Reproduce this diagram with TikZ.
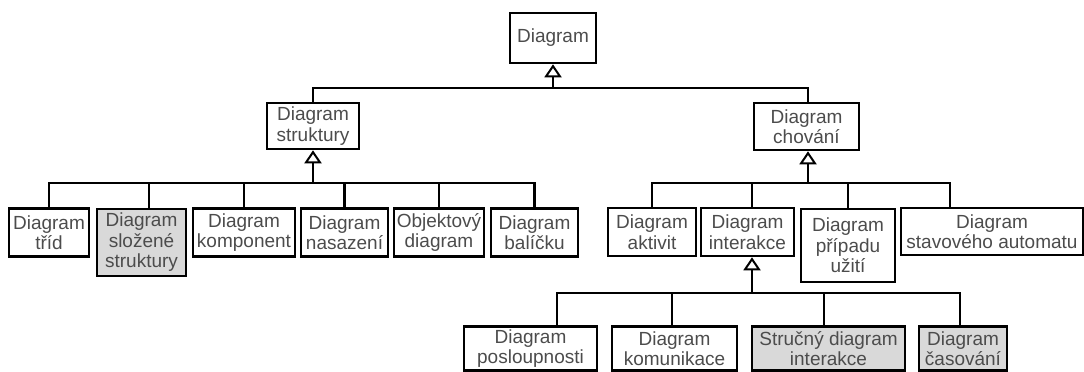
\documentclass[tikz,border=0pt]{standalone}
\usepackage{fontspec}
\setmainfont{Liberation Sans}
\usetikzlibrary{arrows.meta}
\definecolor{boxgray}{gray}{0.85}
\definecolor{txtgray}{gray}{0.3}
\begin{document}
\begin{tikzpicture}[x=1pt,y=-1pt]
        \tikzstyle{diag}=[draw=black,line width=2.6pt,text=txtgray,align=center,inner sep=0pt,font=\fontsize{19}{20.5}\selectfont]
        \tikzstyle{shaded}=[diag,fill=boxgray]
        \tikzstyle{edge}=[draw,line width=2.4pt]
        \tikzstyle{gen}=[edge,-{Triangle[open,length=13pt,width=17pt,line width=2pt]}]
        \useasboundingbox (0,0) rectangle (1084,372);
       \begin{scope}
         % top levels
         \node [diag,minimum width=86pt,minimum height=50pt] (diagram) at (553,38) {Diagram};
         \node [diag,minimum width=92pt,minimum height=46pt] (struktury) at (313,126) {Diagram\\struktury};
         \node [diag,minimum width=105pt,minimum height=47pt] (chovani) at (806.5,126.5) {Diagram\\chování};

         % structure diagrams
         \node [diag,minimum width=80pt,minimum height=48pt] (trid) at (49,232.5) {Diagram\\tříd};
         \node [shaded,minimum width=89pt,minimum height=67pt] (slozene) at (141.5,242.5) {Diagram\\složené\\struktury};
         \node [diag,minimum width=102pt,minimum height=48pt] (komponent) at (244,232.5) {Diagram\\komponent};
         \node [diag,minimum width=87pt,minimum height=48pt] (nasazeni) at (344.5,232.5) {Diagram\\nasazení};
         \node [diag,minimum width=90pt,minimum height=48pt] (objektovy) at (439,232.5) {Objektový\\diagram};
         \node [diag,minimum width=87pt,minimum height=48pt] (balicku) at (534.5,232.5) {Diagram\\balíčku};

         % behaviour diagrams
         \node [diag,minimum width=88pt,minimum height=48pt] (aktivit) at (652,232) {Diagram\\aktivit};
         \node [diag,minimum width=93pt,minimum height=48pt] (interakce) at (747.5,232) {Diagram\\interakce};
         \node [diag,minimum width=94pt,minimum height=73pt] (pripadu) at (848,245.5) {Diagram\\případu\\užití};
         \node [diag,minimum width=182pt,minimum height=47pt] (stavoveho) at (992,231.5) {Diagram\\stavového automatu};

         % interaction diagrams
         \node [diag,minimum width=133pt,minimum height=44pt] (posloupnosti) at (530.5,348.5) {Diagram\\posloupnosti};
         \node [diag,minimum width=125pt,minimum height=44pt] (komunikace) at (674.5,348.5) {Diagram\\komunikace};
         \node [shaded,minimum width=153pt,minimum height=44pt] (strucny) at (828.5,348.5) {Stručný diagram\\interakce};
         \node [shaded,minimum width=88pt,minimum height=44pt] (casovani) at (963,348.5) {Diagram\\časování};

         \coordinate (jTop) at (553,88);
         \coordinate (jStr) at (313,183);
         \coordinate (jBeh) at (808,183);
         \coordinate (jInt) at (752,293);

         \path[gen] (jTop) -- (diagram.south);
         \path[edge] (struktury.north) |- (jTop);
         \path[edge] (chovani.north -| jBeh) |- (jTop);

         \path[gen] (jStr) -- (struktury.south);
         \path[edge] (trid.north) |- (jStr);
         \path[edge] ([xshift=7.5pt]slozene.north) |- (jStr);
         \path[edge] (komponent.north) |- (jStr);
         \path[edge] (nasazeni.north) |- (jStr);
         \path[edge] (objektovy.north) |- (jStr);
         \path[edge] (balicku.north) |- (jStr);

         \path[gen] (jBeh) -- (jBeh |- chovani.south);
         \path[edge] (aktivit.north) |- (jBeh);
         \path[edge] (interakce.north -| jInt) |- (jBeh);
         \path[edge] (pripadu.north) |- (jBeh);
         \path[edge] ([xshift=-42pt]stavoveho.north) |- (jBeh);

         \path[gen] (jInt) -- (jInt |- interakce.south);
         \path[edge] ([xshift=26.5pt]posloupnosti.north) |- (jInt);
         \path[edge] ([xshift=-2.5pt]komunikace.north) |- (jInt);
         \path[edge] ([xshift=-4.5pt]strucny.north) |- (jInt);
         \path[edge] ([xshift=-3pt]casovani.north) |- (jInt);
        \end{scope}
\end{tikzpicture}
\end{document}
